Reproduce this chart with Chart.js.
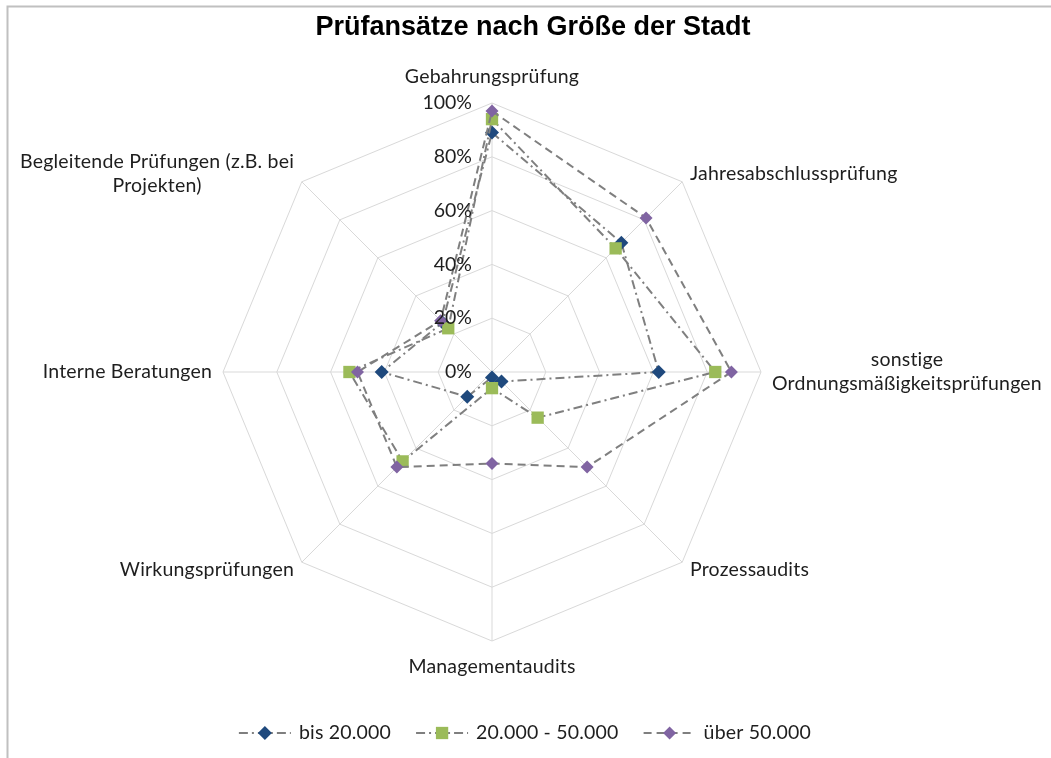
<!DOCTYPE html>
<html>
<head>
<meta charset="utf-8">
<script src="https://cdn.jsdelivr.net/npm/chart.js@4.4.1/dist/chart.umd.min.js"></script>
<style>
  html, body { margin: 0; padding: 0; background: #fff; }
  canvas { display: block; }
</style>
</head>
<body>
<canvas id="myChart" width="1051" height="758"></canvas>
<script>
// radar chart - Prüfansätze

var chartTitle = 'Prüfansätze nach Größe der Stadt';

var categories = [
  ['Gebahrungsprüfung'],
  ['Jahresabschlussprüfung'],
  ['sonstige', 'Ordnungsmäßigkeitsprüfungen'],
  ['Prozessaudits'],
  ['Managementaudits'],
  ['Wirkungsprüfungen'],
  ['Interne Beratungen'],
  ['Begleitende Prüfungen (z.B. bei', 'Projekten)'],
];

var seriesNames = ['bis 20.000', '20.000 - 50.000', 'über 50.000'];

var bis20 = [89, 68, 62, 5, 2, 13, 41, 26];
var von20bis50 = [94, 65, 83, 24, 6, 47, 53, 23];
var ueber50 = [97, 81, 89, 50, 34, 50, 50, 27];

var tickValues = [0, 20, 40, 60, 80, 100];

var labelFont = '19.5px Lato, "Open Sans", sans-serif';
var textColor = '#1e1e1e';
var lineGrey = '#7f7f7f';

function drawMarker(ctx, style, x, y, r, color) {
  ctx.save();
  ctx.fillStyle = color;
  ctx.beginPath();
  if (style === 'rect') {
    var s = r * Math.SQRT1_2;
    ctx.rect(x - s, y - s, s * 2, s * 2);
  } else {
    ctx.moveTo(x, y - r);
    ctx.lineTo(x + r, y);
    ctx.lineTo(x, y + r);
    ctx.lineTo(x - r, y);
    ctx.closePath();
  }
  ctx.fill();
  ctx.restore();
}

function setLabelFont(ctx) {
  ctx.font = labelFont;
  // small spacing, also keeps Lato from using its "ti" ligature
  ctx.letterSpacing = '0.2px';
  ctx.fillStyle = textColor;
}

var excelLook = {
  id: 'excelLook',

  beforeDraw: function (chart) {
    var ctx = chart.ctx;
    ctx.save();
    ctx.fillStyle = '#fff';
    ctx.fillRect(0, 0, chart.width, chart.height);
    // frame (cut off on right / bottom like the screenshot)
    ctx.strokeStyle = '#c0c0c0';
    ctx.lineWidth = 2;
    ctx.beginPath();
    ctx.moveTo(7.5, chart.height);
    ctx.lineTo(7.5, 6.5);
    ctx.lineTo(chart.width, 6.5);
    ctx.stroke();
    ctx.restore();
  },

  afterDatasetsDraw: function (chart) {
    // tick labels left of the vertical axis
    var ctx = chart.ctx;
    var scale = chart.scales.r;
    ctx.save();
    setLabelFont(ctx);
    ctx.letterSpacing = '0px';
    ctx.textAlign = 'right';
    ctx.textBaseline = 'middle';
    tickValues.forEach(function (v) {
      var y = scale.yCenter - scale.getDistanceFromCenterForValue(v);
      ctx.fillText(v + '%', scale.xCenter - 20, y);
    });
    ctx.restore();
  },

  afterDraw: function (chart) {
    var ctx = chart.ctx;
    var scale = chart.scales.r;
    ctx.save();

    // point labels
    setLabelFont(ctx);
    ctx.textBaseline = 'middle';
    ctx.textAlign = 'center';
    var lineH = 24;
    categories.forEach(function (lines, i) {
      var p = scale.getPointPosition(i, scale.drawingArea + 11);
      var a = scale.getIndexAngle(i);
      var sin = Math.sin(a);
      var cos = Math.cos(a);
      var w = 0;
      lines.forEach(function (t) { w = Math.max(w, ctx.measureText(t).width); });
      var cx = p.x;
      if (sin > 0.01) cx = p.x + w / 2;
      else if (sin < -0.01) cx = p.x - w / 2;
      var cy = p.y;
      if (Math.abs(sin) < 0.01) cy = p.y + (cos > 0 ? -15 : 15);
      var top = cy - (lines.length - 1) * lineH / 2;
      lines.forEach(function (t, k) {
        ctx.fillText(t, cx, top + k * lineH);
      });
    });

    // title
    ctx.letterSpacing = '0px';
    ctx.font = 'bold 27px "Liberation Sans", Arial, sans-serif';
    ctx.fillStyle = '#000';
    ctx.textAlign = 'center';
    ctx.fillText(chartTitle, 533, 28);

    // legend
    setLabelFont(ctx);
    var sym = 52, gapText = 8, gapItem = 25;
    var total = 0;
    var items = chart.data.datasets.map(function (ds) {
      var tw = ctx.measureText(ds.label).width;
      total += sym + gapText + tw;
      return { ds: ds, tw: tw };
    });
    total += gapItem * (items.length - 1);
    var x = 525 - total / 2;
    var y = 733;
    items.forEach(function (it) {
      var ds = it.ds;
      ctx.save();
      ctx.strokeStyle = lineGrey;
      ctx.lineWidth = 2;
      ctx.setLineDash(ds.borderDash);
      ctx.beginPath();
      ctx.moveTo(x, y);
      ctx.lineTo(x + sym, y);
      ctx.stroke();
      ctx.restore();
      drawMarker(ctx, ds.pointStyle, x + sym / 2, y, ds.pointRadius, ds.pointBackgroundColor);
      ctx.fillStyle = textColor;
      ctx.textAlign = 'left';
      ctx.textBaseline = 'middle';
      ctx.fillText(ds.label, x + sym + gapText, y);
      x += sym + gapText + it.tw + gapItem;
    });

    ctx.restore();
  },
};

var ctx = document.getElementById('myChart').getContext('2d');
var myChart = new Chart(ctx, {
  type: 'radar',
  data: {
    labels: categories,
    datasets: [
      {
        label: seriesNames[0],
        data: bis20,
        order: 3,
        borderColor: lineGrey,
        borderWidth: 2,
        borderDash: [9, 4, 2, 4],
        pointStyle: 'rectRot',
        pointRadius: 7,
        pointBackgroundColor: '#1F497D',
        pointBorderWidth: 0,
        fill: false,
      },
      {
        label: seriesNames[1],
        data: von20bis50,
        order: 2,
        borderColor: lineGrey,
        borderWidth: 2,
        borderDash: [9, 4, 2, 4],
        pointStyle: 'rect',
        pointRadius: 8.7,
        pointBackgroundColor: '#9BBB59',
        pointBorderWidth: 0,
        fill: false,
      },
      {
        label: seriesNames[2],
        data: ueber50,
        order: 1,
        borderColor: lineGrey,
        borderWidth: 2,
        borderDash: [8, 5],
        pointStyle: 'rectRot',
        pointRadius: 6.5,
        pointBackgroundColor: '#8064A2',
        pointBorderWidth: 0,
        fill: false,
      },
    ],
  },
  options: {
    responsive: false,
    animation: false,
    layout: {
      padding: { left: 223, right: 290, top: 103, bottom: 117 },
    },
    elements: {
      line: { tension: 0 },
    },
    plugins: {
      legend: { display: false },
      title: { display: false },
      tooltip: { enabled: false },
    },
    scales: {
      r: {
        min: 0,
        max: 100,
        ticks: { display: false, stepSize: 20 },
        pointLabels: { display: false },
        grid: { color: '#d9d9d9', lineWidth: 1 },
        angleLines: { color: '#d9d9d9', lineWidth: 1 },
      },
    },
  },
  plugins: [excelLook],
});
</script>
</body>
</html>
